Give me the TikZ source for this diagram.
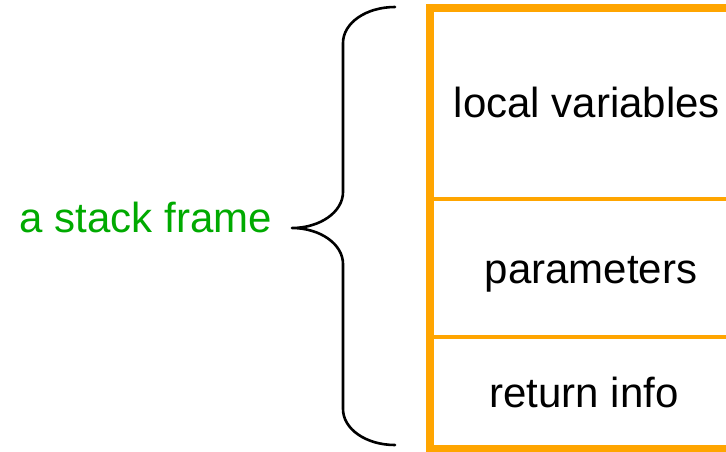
\documentclass[tikz,border=0pt]{standalone}
\usepackage{fontspec}
\setmainfont{Liberation Sans}
\usetikzlibrary{calc}
\definecolor{frameorange}{RGB}{255,165,0}
\definecolor{labelgreen}{RGB}{0,170,0}

\begin{document}
\begin{tikzpicture}[x=1pt,y=-1pt,
  celltext/.style={anchor=base,inner sep=0pt,font=\fontsize{42}{50}\selectfont},
  bracepath/.style={line width=2.6pt,line cap=round,line join=round}]
\useasboundingbox (0,0) rectangle (726,451);
% the stack frame box, cut off at the right and bottom
\draw[frameorange,line width=8pt] (750,7.5)--(430,7.5)--(430,449)--(750,449);
\draw[frameorange,line width=4pt] (430,198.7)--(760,198.7) (430,337)--(760,337);
\node[celltext] (locals) at (587,117) {local variables};
\node[celltext] (params) at (591,283) {parameters};
\node[celltext] (retinfo) at (584,407) {return info};
% brace and its label
\coordinate (tip) at (292,228);
\draw[bracepath] (395,7) .. controls (366,7) and (343,23) .. (343,43) -- (343,192)
  .. controls (343,212) and (320,228) .. (tip)
  .. controls (320,228) and (343,244) .. (343,264) -- (343,409)
  .. controls (343,429) and (366,445) .. (395,445);
\node[celltext,labelgreen] (frame) at (146,232) {a stack frame};
\end{tikzpicture}
\end{document}
